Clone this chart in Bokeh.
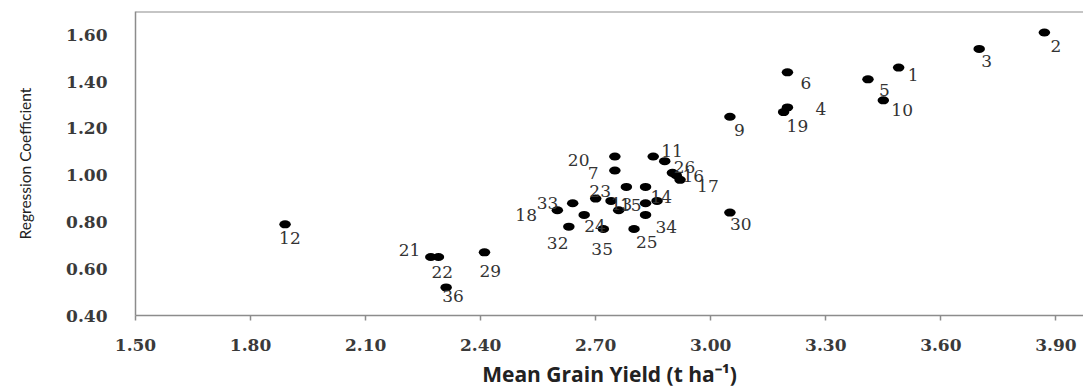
from bokeh.plotting import figure
from bokeh.models import FixedTicker, PrintfTickFormatter, Span, ColumnDataSource, Range1d
from bokeh.core.properties import value
from bokeh.embed import file_html
from bokeh.resources import INLINE

# ---- data ----
genotypes = ["1", "2", "3", "4", "5", "6", "7", "8", "9", "10", "11", "12",
             "13", "14", "15", "16", "17", "18", "19", "20", "21", "22", "23", "24",
             "25", "26", "27", "28", "29", "30", "31", "32", "33", "34", "35", "36"]
mean_yield = [3.49, 3.87, 3.70, 3.20, 3.41, 3.20, 2.75, 2.91, 3.05, 3.45, 2.85, 1.89,
              2.70, 2.83, 2.74, 2.90, 2.92, 2.60, 3.19, 2.75, 2.27, 2.29, 2.78, 2.67,
              2.80, 2.88, 2.76, 2.83, 2.41, 3.05, 2.86, 2.63, 2.64, 2.83, 2.72, 2.31]
regression_coef = [1.46, 1.61, 1.54, 1.29, 1.41, 1.44, 1.02, 1.00, 1.25, 1.32, 1.08, 0.79,
                   0.90, 0.95, 0.89, 1.01, 0.98, 0.85, 1.27, 1.08, 0.65, 0.65, 0.95, 0.83,
                   0.77, 1.06, 0.85, 0.88, 0.67, 0.84, 0.89, 0.78, 0.88, 0.83, 0.77, 0.52]
x_ticks = [1.50, 1.80, 2.10, 2.40, 2.70, 3.00, 3.30, 3.60, 3.90]
y_ticks = [0.40, 0.60, 0.80, 1.00, 1.20, 1.40, 1.60]
x_title = "Mean Grain Yield (t ha\u207b\u00b9)"
y_title = "Regression Coefficient"

# ---- label placement (screen px offsets of each data label from its point) ----
label_offsets = {
    "1": (9, 7), "2": (6, 13), "3": (2, 12), "4": (28, 2), "5": (11, 11), "6": (13, 11),
    "7": (-27, 2), "9": (4, 13), "10": (8, 10), "11": (8, -5), "12": (-6, 14),
    "13": (15, 5), "14": (5, 10), "15": (9, 4), "16": (10, 3), "17": (17, 6),
    "18": (-42, 5), "19": (3, 14), "20": (-47, 4), "21": (-32, -7), "22": (-7, 15),
    "23": (-37, 4), "24": (0, 11), "25": (2, 13), "26": (9, 6), "29": (-5, 19),
    "30": (0, 11), "32": (-22, 16), "33": (-36, 0), "34": (10, 12), "35": (-12, 20),
    "36": (-4, 9),
}

pts = ColumnDataSource(dict(x=mean_yield, y=regression_coef))
lab_x, lab_y, lab_t, lab_dx, lab_dy = [], [], [], [], []
for g, xv, yv in zip(genotypes, mean_yield, regression_coef):
    if g in label_offsets:
        dx, dy = label_offsets[g]
        lab_x.append(xv); lab_y.append(yv); lab_t.append(g)
        lab_dx.append(dx); lab_dy.append(dy)
labs = ColumnDataSource(dict(x=lab_x, y=lab_y, text=lab_t, dx=lab_dx, dy=lab_dy))

p = figure(width=1083, height=391, output_backend="svg", toolbar_location=None,
           x_range=Range1d(1.50, 3.972), y_range=Range1d(0.40, 1.70),
           min_border_left=135, min_border_right=0, min_border_top=11, min_border_bottom=76)
p.outline_line_color = None
p.xgrid.visible = False
p.ygrid.visible = False
p.background_fill_color = "white"
p.border_fill_color = "white"

axis_col = "#8c8c8c"
for ax in (p.xaxis[0], p.yaxis[0]):
    ax.axis_line_color = axis_col
    ax.axis_line_width = 1.5
    ax.major_tick_line_color = axis_col
    ax.major_tick_line_width = 1.5
    ax.minor_tick_line_color = None
    ax.major_tick_in = 0
    ax.major_label_text_font = "DejaVu Serif"
    ax.major_label_text_font_style = "bold"
    ax.major_label_text_font_size = "17px"
    ax.major_label_text_color = "#3a3a3a"
    ax.formatter = PrintfTickFormatter(format="%.2f")

p.xaxis[0].ticker = FixedTicker(ticks=x_ticks)
p.xaxis[0].major_tick_out = 5
p.xaxis[0].major_label_standoff = 18
p.xaxis[0].axis_label = x_title
p.xaxis[0].axis_label_text_font = "Open Sans"
p.xaxis[0].axis_label_text_font_style = "bold"
p.xaxis[0].axis_label_text_font_size = "21px"
p.xaxis[0].axis_label_text_color = "#222222"
p.xaxis[0].axis_label_standoff = 6

p.yaxis[0].ticker = FixedTicker(ticks=y_ticks)
p.yaxis[0].major_tick_out = 0
p.yaxis[0].major_label_standoff = 28
p.yaxis[0].axis_label = y_title
p.yaxis[0].axis_label_text_font = "Lato"
p.yaxis[0].axis_label_text_font_style = "normal"
p.yaxis[0].axis_label_text_font_size = "15.5px"
p.yaxis[0].axis_label_text_color = "#222222"
p.yaxis[0].axis_label_standoff = 29

p.add_layout(Span(location=1.70, dimension="width", line_color=axis_col, line_width=2))

p.ellipse(x="x", y="y", width=11.5, height=8, width_units="screen", height_units="screen",
          fill_color="black", line_color=None, source=pts)
p.text(x="x", y="y", text="text", x_offset="dx", y_offset="dy", source=labs,
       text_font=value("DejaVu Serif"), text_font_size="17px", text_color="#333333",
       text_align="left", text_baseline="middle")

open("out.html", "w").write(file_html(p, INLINE))
